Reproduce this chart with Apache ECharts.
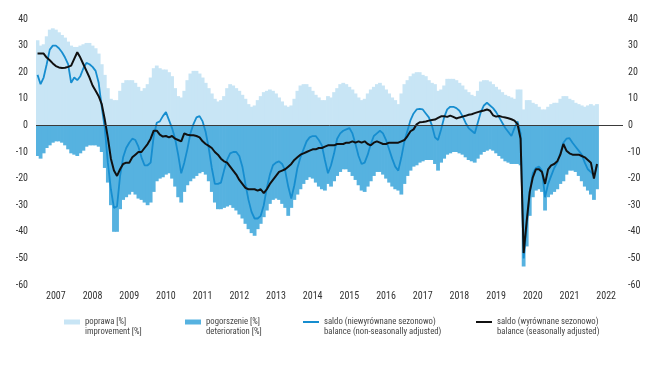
<!DOCTYPE html>
<html>
<head>
<meta charset="utf-8">
<script src="https://cdn.jsdelivr.net/npm/echarts@6/dist/echarts.min.js"></script>
<style>
html,body{margin:0;padding:0;background:#fff;}
#chart{width:664px;height:368px;}
</style>
</head>
<body>
<div id="chart"></div>
<script>
// Year tick labels (x axis spans Jan 2007 - Dec 2022, monthly)
const years = ['2007','2008','2009','2010','2011','2012','2013','2014','2015','2016','2017','2018','2019','2020','2021','2022'];

// improvement [%] (monthly, Jan 2007 - Apr 2022)
const improvement = [
  32, 30, 30.5, 33.5, 36, 36.5, 36, 35, 34, 33, 31.5, 30,
  29.5, 29.5, 30, 30.5, 31, 31, 30, 29, 27, 23, 19, 14,
  10, 9.5, 9.5, 13, 16, 17, 17, 17, 16, 14.5, 13, 14,
  15.5, 18, 21.5, 22.5, 21.5, 21, 21, 20, 18.5, 14, 11, 10.5,
  13, 17, 19.5, 20.5, 20.5, 19.5, 18, 16, 14, 12, 10, 9,
  9.5, 11, 14, 15.5, 15, 14, 13, 11.5, 10, 8, 7, 7.5,
  9.5, 11, 12.5, 13, 13.5, 13, 12, 10.5, 9, 7.5, 7, 7.5,
  10, 13, 15, 15.5, 15.5, 14.5, 13, 11.5, 10.5, 9.5, 9.5, 11,
  10.5, 12.5, 14, 15.5, 16, 15.5, 14.5, 13.5, 12, 10.5, 9.5, 10,
  12, 13.5, 14.5, 15.5, 16, 15, 13.5, 12, 10.5, 9.5, 8, 12,
  15.5, 17, 18.5, 19.5, 20, 20, 19, 18.5, 17, 16, 15.5, 13,
  13.5, 15, 17.5, 17.5, 17.5, 17, 16, 15, 13.5, 12.5, 11.5, 11,
  13, 16.5, 17, 17, 16.5, 15.5, 14.5, 13.5, 12.5, 11.5, 11, 10.5,
  10, 13.5, 13.5, 6, 9.5, 9.5, 8.5, 8, 7, 6, 6, 7,
  8, 8.5, 8.5, 10, 11, 11, 10, 9.5, 8.5, 8, 7.5, 7,
  7.5, 8, 7.5, 8
];

// deterioration [%] (plotted as negative)
const deterioration = [
  -11.5, -12.5, -10.5, -8.5, -7.5, -6.5, -6, -6, -6.5, -7.5, -9, -10.5,
  -11, -11.5, -10.5, -9.5, -8, -7.5, -7.5, -7.5, -8, -10, -16, -21.5,
  -30, -40, -40, -31.5, -28, -27, -26, -25, -26, -27.5, -28, -29,
  -30, -29, -25, -21, -20, -19.5, -18.5, -18, -20, -23, -27, -29,
  -25, -22.5, -21, -20, -19, -18, -17.5, -18.5, -21, -25, -29, -31.5,
  -31.5, -31, -30.5, -30, -31, -32, -33.5, -35, -37, -39, -40.5, -41.5,
  -39, -37, -34.5, -32, -29.5, -28, -27.5, -28, -29.5, -31, -34, -31,
  -28, -26, -24, -22, -20.5, -19.5, -20, -21.5, -23, -24, -24.5, -22,
  -23, -21, -19, -17.5, -16.5, -16.5, -17.5, -19, -20.5, -22.5, -24.5, -25,
  -23, -21, -19, -17.5, -17.5, -18.5, -20, -21.5, -23, -24, -24.5, -26,
  -22, -19, -17, -15.5, -15, -14, -13.5, -13, -13, -13, -14.5, -17,
  -14, -12.5, -11, -10.5, -10, -10, -10.5, -11, -12, -13, -13.5, -14,
  -12.5, -11, -10, -9.5, -9, -9.5, -10.5, -11.5, -12.5, -13.5, -14, -14.5,
  -14.5, -14.5, -15, -53, -45.5, -34, -27, -24.5, -24, -25, -32, -27,
  -26, -25, -24, -22, -21, -18.5, -17, -17, -17.5, -19, -21, -23,
  -24.5, -26, -28, -24
];

// balance (non-seasonally adjusted)
const balanceNSA = [
  19, 15.5, 18, 23, 28.5, 30, 30, 29, 27.5, 25.5, 23, 16,
  18, 17, 18.5, 21.5, 23.5, 23, 22, 20.5, 16, 7, -1, -14,
  -24, -31, -30.5, -19, -12, -8.5, -6.5, -5, -5.5, -8, -12, -15,
  -15, -14, -4, 1, 1.5, 3.5, 5, 2, -1, -5, -11, -18,
  -14, -9, -3, 0.5, 3, 3.5, 1.5, -2.5, -8.5, -16, -22, -22,
  -21.5, -17, -13, -10.5, -10, -10, -11.5, -15.5, -22, -28, -32.5, -35,
  -35, -34, -30, -23.5, -18.5, -15, -14, -13.5, -14.5, -17, -23, -27.5,
  -22.5, -16, -12, -9, -6, -4.5, -4, -4, -5.5, -7.5, -13, -18,
  -15, -10.5, -5, -3, -2, -1.5, -1, -3, -7, -11.5, -14.5, -14,
  -11, -7, -4, -3, -2, -3, -5.5, -9, -12.5, -15.5, -17, -12,
  -6, -2, 2, 4.5, 6, 6.2, 6, 4.5, 3, 0, -4.5, -5.5,
  -1.5, 3, 6, 7, 7, 6.5, 5.5, 3.5, 1, -1, -2, -3,
  1, 5, 7.5, 8.5, 7.5, 6.5, 5, 3, 1, -1, -2.5, -4,
  -1, 1.5, -3, -50, -38, -25, -18, -16, -15.5, -17, -27, -22,
  -19, -16, -14, -10.5, -6.5, -5, -4.8, -6.5, -8, -9.5, -11, -14,
  -16.5, -17.5, -19, -15
];

// balance (seasonally adjusted)
const balanceSA = [
  27, 27, 27, 25.5, 24.5, 23.3, 22.3, 21.8, 21.6, 21.7, 22, 22.5,
  25, 27.5, 25.5, 23, 20.5, 18, 15, 13, 11, 8, 2.2, -4.6,
  -12.5, -17, -19, -16.5, -14.5, -14, -14, -12, -11, -10, -10, -8.5,
  -7, -5, -2, -2, -3.5, -4.2, -4, -4.5, -4, -5, -5.5, -6,
  -3, -3.5, -3.7, -3.7, -4, -4.5, -6, -7, -7.7, -8.5, -10, -11,
  -12.5, -13.5, -14, -15.5, -17, -18.5, -20.5, -22, -23.5, -24, -24, -24,
  -24.5, -24, -25.5, -24, -22, -20.5, -19, -17.5, -17, -16.5, -15.5, -14.5,
  -13, -12, -11, -10.5, -10, -9.5, -9, -9, -8.5, -8.5, -8, -7.5,
  -7.5, -7.5, -7, -7, -7, -6.5, -6.5, -6, -6.5, -6, -6.5, -6,
  -7, -7.5, -6.5, -6, -6.5, -7, -7, -6.5, -6.5, -6.5, -6.5, -6,
  -5.5, -4, -2.2, -1.5, 0.4, 1.2, 1.3, 1.5, 1.8, 2, 2.2, 2.8,
  3.4, 3.4, 3.2, 3.7, 3.2, 2.6, 3, 3.3, 3.6, 4, 4.2, 4.6,
  5, 5.3, 5.6, 6, 5.5, 3.8, 3.3, 3.5, 3.2, 3, 2.7, 2.3,
  1.8, 0.5, -5, -48, -36, -25, -19.5, -16.5, -16.5, -17.5, -22, -16.5,
  -15, -14.5, -13.5, -11, -7, -9.5, -10.5, -11, -11, -11, -11.5, -12,
  -13, -14, -20, -14.5
];

const months = [];
years.forEach(function (y) {
  for (let m = 1; m <= 12; m++) months.push(y + '-' + (m < 10 ? '0' + m : m));
});

const FONT = "'Liberation Sans Narrow', 'Roboto Condensed', Roboto, 'DejaVu Sans Condensed', sans-serif";
const names = [
  'poprawa [%]\nimprovement [%]',
  'pogorszenie [%]\ndeterioration [%]',
  'saldo (niewyrównane sezonowo)\nbalance (non-seasonally adjusted)',
  'saldo (wyrównane sezonowo)\nbalance (seasonally adjusted)'
];
const cImp = '#c8e5f5', cDet = '#56b2e0', cNSA = '#168dcf', cSA = '#111111';

const chart = echarts.init(document.getElementById('chart'), null, {renderer: 'canvas'});

function legendItem(name, left, iconH) {
  return {
    data: [{name: name, icon: 'rect'}],
    left: left, top: 307,
    itemWidth: 16, itemHeight: iconH,
    padding: 0,
    selectedMode: false,
    formatter: function (n) { return '\n' + n; },
    textStyle: {fontFamily: FONT, fontSize: 8.7, color: '#444', lineHeight: 10}
  };
}

const yAxisCommon = {
  type: 'value', min: -60, max: 40, interval: 10,
  axisLine: {show: false}, axisTick: {show: false}, splitLine: {show: false},
  axisLabel: {fontFamily: FONT, fontSize: 10, color: '#333'}
};

chart.setOption({
  animation: false,
  backgroundColor: '#ffffff',
  grid: {left: 36, right: 41, top: 19, bottom: 83, containLabel: false},
  legend: [
    legendItem(names[0], 64, 5),
    legendItem(names[1], 185, 5),
    legendItem(names[2], 303, 2),
    legendItem(names[3], 476, 2)
  ],
  xAxis: {
    type: 'category', data: months, boundaryGap: true,
    axisLine: {show: false}, axisTick: {show: false}, splitLine: {show: false},
    axisLabel: {
      interval: function (idx) { return idx % 12 === 6; },
      formatter: function (v) { return v.slice(0, 4); },
      fontFamily: FONT, fontSize: 10, color: '#333', margin: 6
    }
  },
  yAxis: [
    Object.assign({}, yAxisCommon, {position: 'left', axisLabel: Object.assign({}, yAxisCommon.axisLabel, {margin: 8})}),
    Object.assign({}, yAxisCommon, {position: 'right', axisLabel: Object.assign({}, yAxisCommon.axisLabel, {margin: 5})})
  ],
  series: [
    {
      name: names[0], type: 'bar', data: improvement,
      barWidth: 3.8, barGap: '-100%',
      itemStyle: {color: cImp},
      silent: true, z: 1
    },
    {
      name: names[1], type: 'bar', data: deterioration,
      barWidth: 3.8, barGap: '-100%',
      itemStyle: {color: cDet},
      silent: true, z: 1,
      markLine: {
        silent: true, symbol: 'none', label: {show: false},
        lineStyle: {color: '#3a3a3a', width: 1, type: 'solid'},
        data: [{yAxis: 0}]
      }
    },
    {
      name: names[2], type: 'line', data: balanceNSA,
      showSymbol: false, symbol: 'none',
      lineStyle: {color: cNSA, width: 1.8}, itemStyle: {color: cNSA},
      z: 3
    },
    {
      name: names[3], type: 'line', data: balanceSA,
      showSymbol: false, symbol: 'none',
      lineStyle: {color: cSA, width: 2}, itemStyle: {color: cSA},
      z: 4
    }
  ]
});
</script>
</body>
</html>
